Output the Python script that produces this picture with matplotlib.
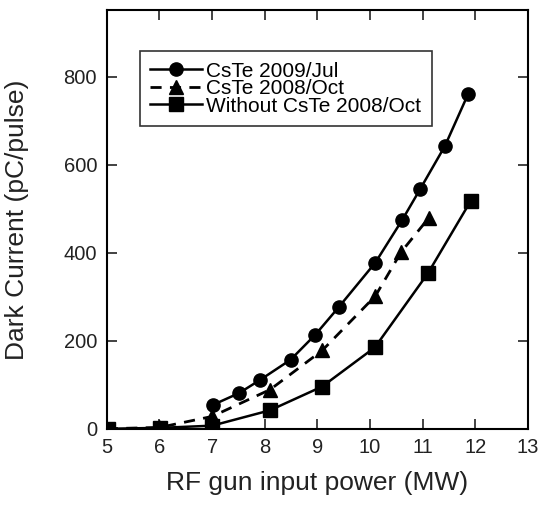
import matplotlib
matplotlib.use("Agg")
import matplotlib.pyplot as plt

plt.rcParams['font.family'] = ['Liberation Sans', 'DejaVu Sans']

# CsTe 2009/Jul
x_jul = [7.01, 7.51, 7.91, 8.49, 8.96, 9.40, 10.10, 10.61, 10.95, 11.42, 11.86]
y_jul = [54, 81, 111, 157, 214, 276, 378, 475, 545, 643, 761]
# CsTe 2008/Oct
x_oct = [5.0, 6.0, 7.0, 8.10, 9.09, 10.10, 10.59, 11.11]
y_oct = [0, 3, 28, 89, 178, 302, 402, 479]
# Without CsTe 2008/Oct
x_wo = [5.03, 6.01, 7.0, 8.10, 9.09, 10.09, 11.10, 11.91]
y_wo = [0, 2, 7, 42, 96, 185, 354, 518]

xticks = [5, 6, 7, 8, 9, 10, 11, 12, 13]
yticks = [0, 200, 400, 600, 800]

fig = plt.figure(figsize=(5.45, 5.08), dpi=100)
ax = fig.add_axes([0.196, 0.156, 0.773, 0.824])

ax.plot(x_oct, y_oct, color='black', ls=(0, (4, 3)), lw=2, marker='^', markersize=9.5,
        label='CsTe 2008/Oct', zorder=2)
ax.plot(x_wo, y_wo, color='black', ls='-', lw=1.8, marker='s', markersize=9.5,
        label='Without CsTe 2008/Oct', zorder=3)
ax.plot(x_jul, y_jul, color='black', ls='-', lw=1.8, marker='o', markersize=9.5,
        label='CsTe 2009/Jul', zorder=4)

ax.set_xlim(5, 13)
ax.set_ylim(0, 952)
ax.set_xticks(xticks)
ax.set_yticks(yticks)
ax.tick_params(direction='in', top=True, right=True, length=7, width=1.2,
               labelsize=14.5, colors='#222222')
ax.tick_params(axis='x', pad=7)
ax.tick_params(axis='y', pad=7)
for s in ax.spines.values():
    s.set_linewidth(1.5)

ax.set_xlabel('RF gun input power (MW)', fontsize=19, labelpad=10, color='#222222')
ax.set_ylabel('Dark Current (pC/pulse)', fontsize=19, labelpad=25, color='#222222')

h, l = ax.get_legend_handles_labels()
order = [2, 0, 1]
leg = ax.legend([h[i] for i in order], [l[i] for i in order],
                loc='upper left', bbox_to_anchor=(0.078, 0.902), fontsize=15,
                frameon=True, fancybox=False, edgecolor='black', handlelength=2.5,
                handletextpad=0.2, labelspacing=-0.07, borderpad=0.5,
                borderaxespad=0)
leg.get_frame().set_linewidth(1.2)

fig.savefig('out.png', dpi=100)
